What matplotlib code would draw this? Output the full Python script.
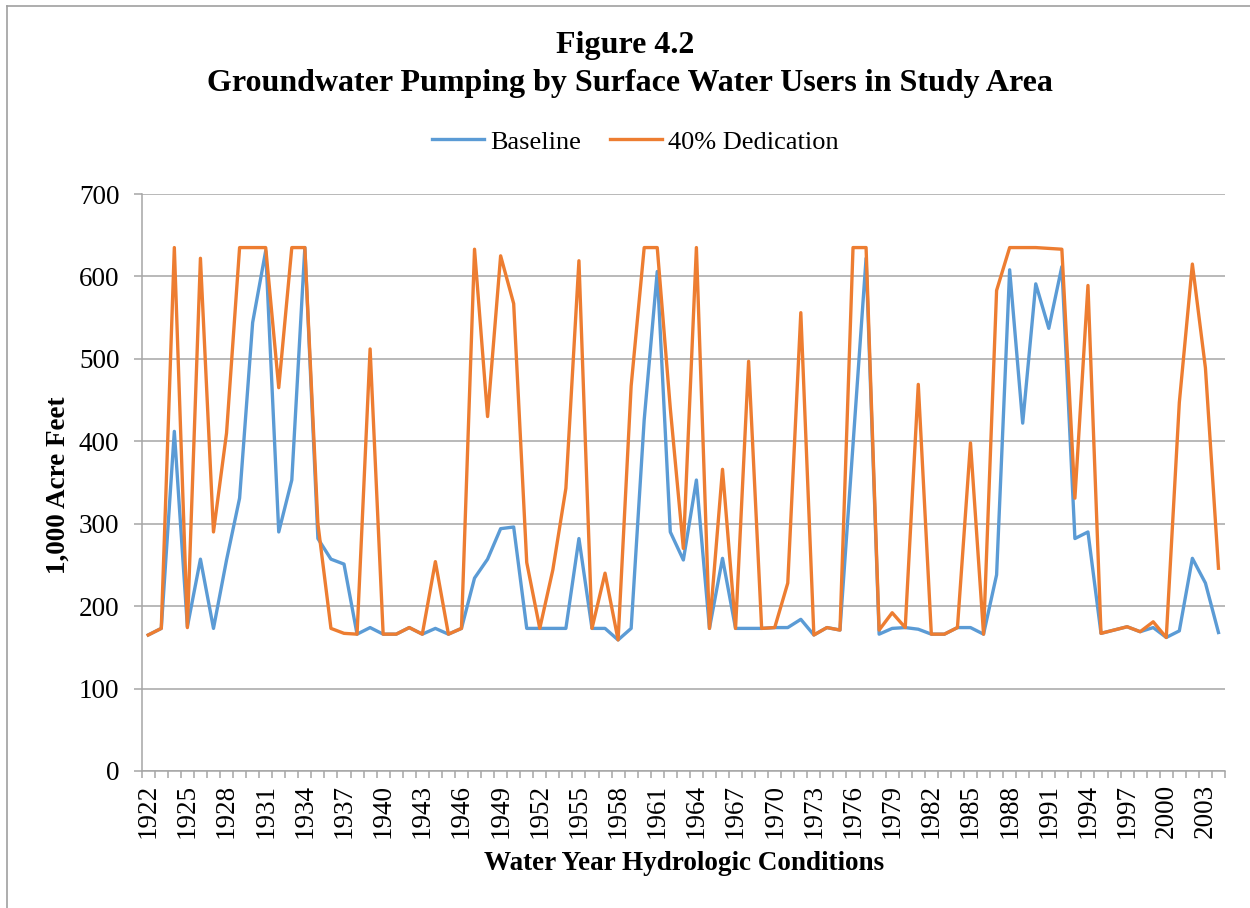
"""Groundwater pumping by surface water users, baseline vs 40% dedication."""
import matplotlib
matplotlib.use('Agg')
import matplotlib.pyplot as plt
from matplotlib.lines import Line2D

plt.rcParams['font.family'] = ['Liberation Serif', 'DejaVu Serif']

# Data: 1,000 acre feet per water year
years = list(range(1922, 2005))
baseline = [
    165, 173, 412, 175, 257, 173, 256, 331,           # 1922-1929
    544, 631, 290, 353, 635, 282, 257, 251, 166, 174,  # 1930-1939
    166, 166, 174, 166, 173, 166, 173, 234, 257, 294,  # 1940-1949
    296, 173, 173, 173, 173, 282, 173, 173, 159, 173,  # 1950-1959
    426, 606, 290, 256, 353, 173, 258, 173, 173, 173,  # 1960-1969
    174, 174, 184, 165, 174, 171, 396, 622, 166, 173,  # 1970-1979
    174, 172, 166, 166, 174, 174, 166, 238, 608, 422,  # 1980-1989
    591, 537, 612, 282, 290, 167, 171, 175, 169, 174,  # 1990-1999
    162, 170, 258, 228, 168,                           # 2000-2004
]
dedication = [
    165, 173, 635, 174, 622, 290, 410, 635,           # 1922-1929
    635, 635, 465, 635, 635, 300, 173, 167, 166, 512,  # 1930-1939
    166, 166, 174, 166, 254, 166, 173, 633, 430, 625,  # 1940-1949
    567, 253, 173, 244, 343, 619, 173, 240, 159, 467,  # 1950-1959
    635, 635, 440, 270, 635, 173, 366, 173, 497, 173,  # 1960-1969
    174, 228, 556, 165, 174, 171, 635, 635, 171, 192,  # 1970-1979
    174, 469, 166, 166, 174, 398, 166, 583, 635, 635,  # 1980-1989
    635, 634, 633, 331, 589, 167, 171, 175, 169, 181,  # 1990-1999
    162, 447, 615, 489, 246,                           # 2000-2004
]
series_names = ['Baseline', '40% Dedication']
series_colors = ['#5B9BD5', '#ED7D31']

GRID = '#A6A6A6'
W, H = 1250, 908
fig = plt.figure(figsize=(W / 100, H / 100), dpi=100)
ax = fig.add_axes([141.7 / W, 1 - 771 / H, (1225 - 141.7) / W, (771 - 194) / H])

x = list(range(len(years)))
ax.plot(x, baseline, color=series_colors[0], lw=2.4, solid_joinstyle='round', zorder=3)
ax.plot(x, dedication, color=series_colors[1], lw=2.4, solid_joinstyle='round', zorder=4)

ax.set_xlim(-0.5, len(years) - 0.5)
ax.set_ylim(0, 700)

# y axis
ax.set_yticks(range(0, 701, 100))
ax.yaxis.grid(True, color=GRID, lw=1.1)
ax.set_axisbelow(True)
ax.tick_params(axis='y', length=6, width=1.1, color=GRID, labelsize=19.5, pad=10)

# x axis: ticks between categories, labels every 3rd year
ax.set_xticks([i - 0.5 for i in range(len(years) + 1)])
ax.set_xticklabels([])
ax.set_xticks(x[::3], minor=True)
ax.set_xticklabels([str(y) for y in years[::3]], minor=True, rotation=90)
ax.tick_params(axis='x', which='major', length=5, width=1.1, color=GRID)
ax.tick_params(axis='x', which='minor', length=0, labelsize=19.5, pad=9)

for s in ['top', 'right']:
    ax.spines[s].set_visible(False)
for s in ['left', 'bottom']:
    ax.spines[s].set_color(GRID)
    ax.spines[s].set_linewidth(1.1)

# titles and labels
fig.text(0.5, 1 - 46 / H, 'Figure 4.2', ha='center', va='center',
         fontsize=23, fontweight='bold')
fig.text(630 / W, 1 - 83 / H, 'Groundwater Pumping by Surface Water Users in Study Area',
         ha='center', va='center', fontsize=23, fontweight='bold')
fig.text(58 / W, 1 - 485 / H, '1,000 Acre Feet', rotation=90, ha='center', va='center',
         fontsize=19.5, fontweight='bold')
fig.text(684 / W, 1 - 864 / H, 'Water Year Hydrologic Conditions', ha='center', va='center',
         fontsize=19.5, fontweight='bold')

handles = [Line2D([], [], color=c, lw=2.4) for c in series_colors]
fig.legend(handles, series_names, loc='center', bbox_to_anchor=(635 / W, 1 - 142 / H),
           ncol=2, frameon=False, fontsize=19, handlelength=2.0, handletextpad=0.2,
           columnspacing=1.1)

# outer chart border (left and top)
fig.add_artist(Line2D([7 / W, 7 / W], [0, 1 - 6 / H], color='#A0A0A0', lw=1.2))
fig.add_artist(Line2D([7 / W, 1], [1 - 6 / H, 1 - 6 / H], color='#A0A0A0', lw=1.2))

fig.savefig('out.png', dpi=100)
print('Saved out.png')
